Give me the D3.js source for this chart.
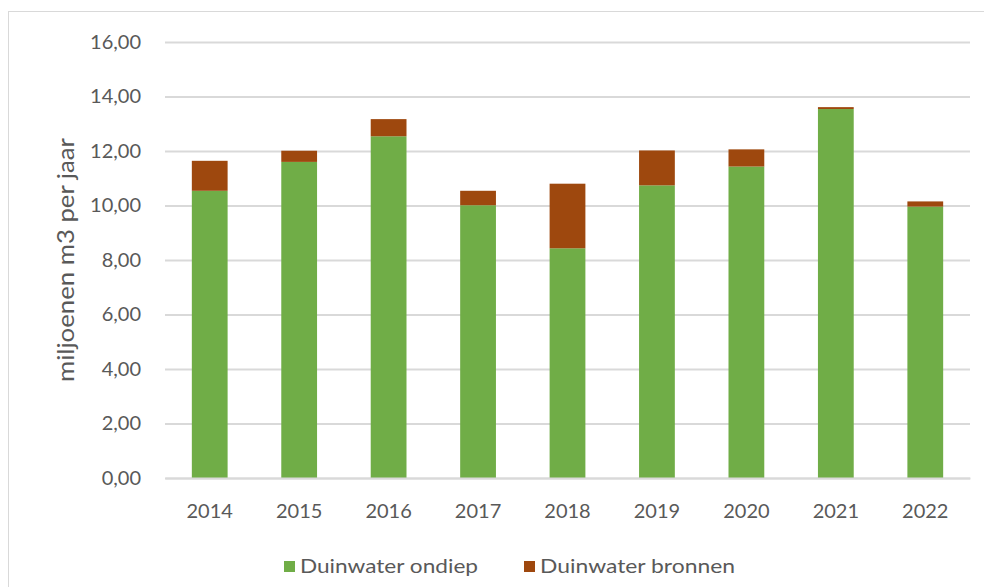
<!DOCTYPE html>
<html>
<head>
<meta charset="utf-8">
<script src="https://cdn.jsdelivr.net/npm/d3@7"></script>
<style>
  html, body { margin: 0; padding: 0; background: #fff; }
  svg { display: block; }
  text { font-family: Lato, "Open Sans", sans-serif; fill: #595959; }
</style>
</head>
<body>
<svg id="chart" width="984" height="587"></svg>
<script>
// Yearly dune-water extraction (million m3 per year)
const years = ["2014", "2015", "2016", "2017", "2018", "2019", "2020", "2021", "2022"];
const ondiep = [10.54, 11.60, 12.54, 10.01, 8.43, 10.74, 11.43, 13.54, 9.96];
const bronnen = [1.10, 0.41, 0.63, 0.53, 2.37, 1.28, 0.63, 0.07, 0.19];
const yTicks = [0, 2, 4, 6, 8, 10, 12, 14, 16];
const seriesNames = ["Duinwater ondiep", "Duinwater bronnen"];
const colors = ["#70AD47", "#9E480E"];

const svg = d3.select("#chart");
const margin = { left: 165, right: 14, top: 42, bottom: 109 };
const W = 984, H = 587;

// chart frame
svg.append("rect")
  .attr("x", 8.5).attr("y", 11.5)
  .attr("width", W).attr("height", H)
  .attr("fill", "none").attr("stroke", "#d9d9d9").attr("stroke-width", 1);

const x = d3.scaleBand()
  .domain(years)
  .range([margin.left, W - margin.right])
  .paddingInner(0.6)
  .paddingOuter(0.3);

const y = d3.scaleLinear()
  .domain([0, 16])
  .range([H - margin.bottom, margin.top]);

// gridlines + y tick labels
const yAxis = d3.axisLeft(y)
  .tickValues(yTicks)
  .tickSize(-(W - margin.right - margin.left))
  .tickPadding(24)
  .tickFormat(d => d3.format(".2f")(d).replace(".", ","));

const gy = svg.append("g")
  .attr("transform", `translate(${margin.left},0)`)
  .call(yAxis);
gy.select(".domain").remove();
gy.selectAll(".tick line").attr("stroke", "#d9d9d9").attr("stroke-width", 2);
gy.selectAll(".tick text").style("font-size", "20px").attr("fill", "#595959");

// stacked bars
const rows = years.map((yr, i) => ({ year: yr, ondiep: ondiep[i], bronnen: bronnen[i] }));
const stack = d3.stack().keys(["ondiep", "bronnen"]);
const layers = stack(rows);

svg.append("g").selectAll("g")
  .data(layers)
  .join("g")
  .attr("fill", (d, i) => colors[i])
  .selectAll("rect")
  .data(d => d)
  .join("rect")
  .attr("x", d => x(d.data.year))
  .attr("y", d => y(d[1]))
  .attr("width", x.bandwidth())
  .attr("height", d => y(d[0]) - y(d[1]));

// x axis
const xAxis = d3.axisBottom(x).tickSize(0).tickPadding(26);
const gx = svg.append("g")
  .attr("transform", `translate(0,${y(0)})`)
  .call(xAxis);
gx.select(".domain").attr("stroke", "#d9d9d9").attr("stroke-width", 2);
gx.selectAll(".tick text").style("font-size", "20px").attr("fill", "#595959");

// y axis title
svg.append("text")
  .attr("transform", `translate(74,${(y(0) + y(16)) / 2}) rotate(-90)`)
  .attr("text-anchor", "middle")
  .attr("textLength", 244)
  .attr("lengthAdjust", "spacingAndGlyphs")
  .style("font-size", "23px")
  .text("miljoenen m3 per jaar");

// legend
const legendItems = [
  { name: seriesNames[0], color: colors[0], x: 284, len: 178 },
  { name: seriesNames[1], color: colors[1], x: 524, len: 195 }
];
const lg = svg.append("g");
legendItems.forEach(it => {
  lg.append("rect")
    .attr("x", it.x).attr("y", 561)
    .attr("width", 11).attr("height", 11)
    .attr("fill", it.color);
  lg.append("text")
    .attr("x", it.x + 16).attr("y", 573)
    .attr("textLength", it.len)
    .attr("lengthAdjust", "spacingAndGlyphs")
    .style("font-size", "19px")
    .text(it.name);
});
</script>
</body>
</html>
